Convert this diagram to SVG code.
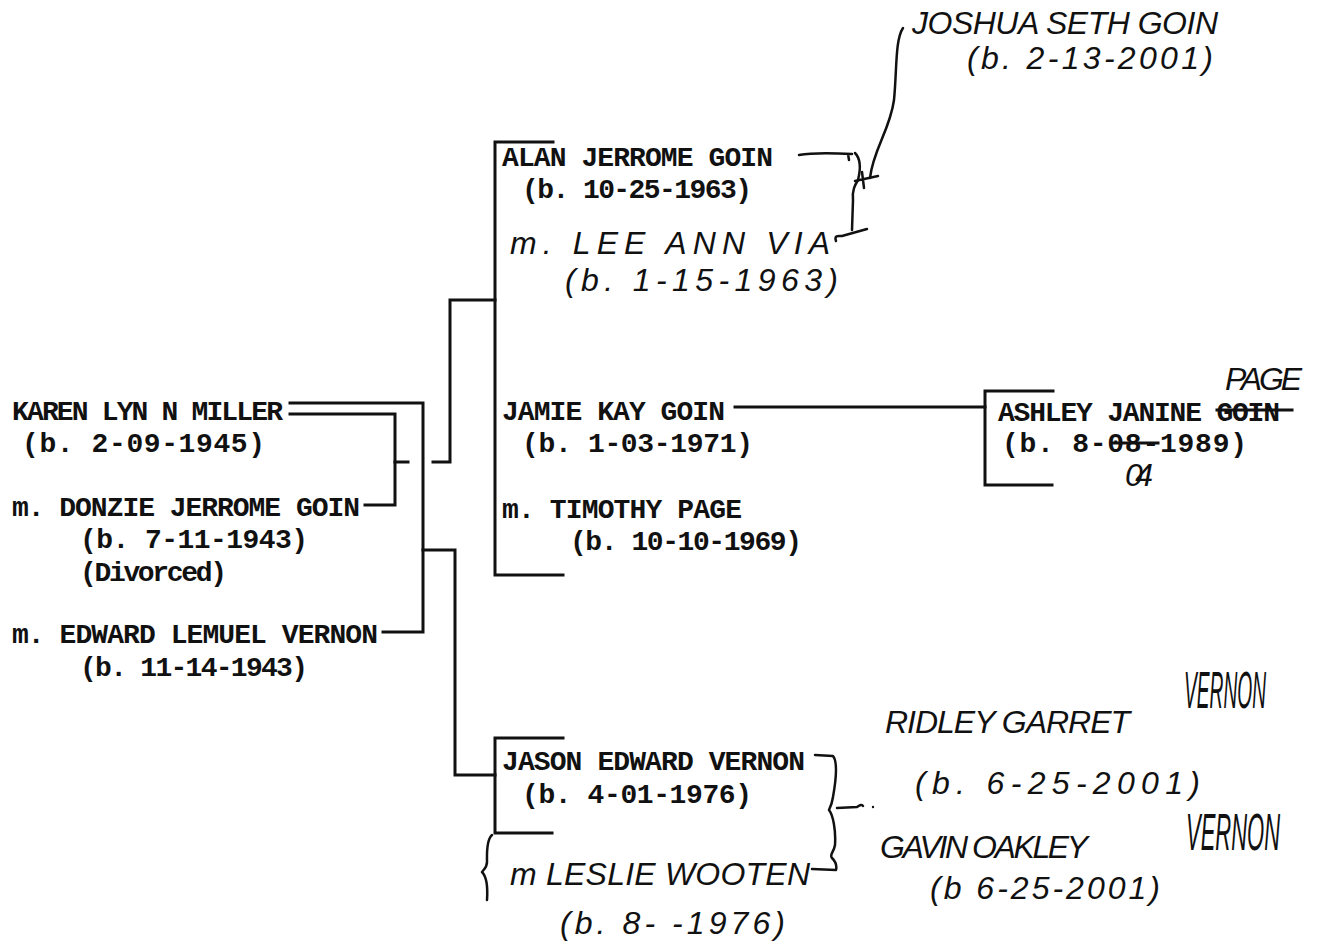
<svg xmlns="http://www.w3.org/2000/svg" width="1320" height="950" viewBox="0 0 1320 950">
<style>
.t{font-family:"Liberation Mono","DejaVu Sans Mono",monospace;font-size:28px;fill:#111;font-weight:bold}
.h{font-family:"Liberation Sans","DejaVu Sans",sans-serif;font-size:32px;fill:#111;font-style:italic}
.ln{fill:none;stroke:#111;stroke-width:3;stroke-linecap:square}
.hl{fill:none;stroke:#111;stroke-width:2.5;stroke-linecap:round;stroke-linejoin:round}
</style>
<rect width="1320" height="950" fill="#fff"/>
<g id="connectors">
<path class="ln" d="M290,403 H423 V632 H383"/>
<path class="ln" d="M290,414 H395 V505 H365"/>
<path class="ln" d="M395,462 H408"/>
<path class="ln" d="M433,462 H450 V300 H495"/>
<path class="ln" d="M423,550 H455 V775 H495"/>
<path class="ln" d="M553,142 H495 V575 H563"/>
<path class="ln" d="M735,407 H985"/>
<path class="ln" d="M1053,391 H985 V485 H1052"/>
<path class="ln" d="M563,738 H495 V833 H552"/>
<path class="hl" d="M903,28 C895,40 897,70 894,100 C890,130 873,150 870,178"/>
<path class="hl" d="M799,155 C815,152 835,153 852,154 M848,154 L849,160"/>
<path class="hl" d="M855,153 C862,160 860,172 858,180 C855,185 852,190 853,200 L852,230"/>
<path class="hl" d="M855,181 L878,176 M862,172 L864,188"/>
<path class="hl" d="M836,241 C834,235 838,236 842,236 L867,229"/>
<path class="hl" d="M815,755 L833,756 C838,762 836,780 833,797 C832,804 830,808 829,810 C833,815 836,830 835,845 C834,852 829,855 832,858 C836,862 837,866 836,870 L812,869"/>
<path class="hl" d="M837,808 L857,807 C860,805 862,804 863,806"/>
<circle cx="873" cy="807" r="1.2" fill="#111"/>
<path class="hl" d="M492,835 C486,840 487,855 487,862 C487,868 483,870 482,872 C486,876 488,885 487,900"/>
</g>
<g id="karen">
<text class="t" x="12" y="420" textLength="271" lengthAdjust="spacing">KAREN LYN N MILLER</text>
<text class="t" x="22" y="452" textLength="243" lengthAdjust="spacing">(b.  2-09-1945)</text>
</g>
<g id="donzie">
<text class="t" x="12" y="516" textLength="348" lengthAdjust="spacing">m. DONZIE JERROME GOIN</text>
<text class="t" x="80" y="548" textLength="228" lengthAdjust="spacing">(b.  7-11-1943)</text>
<text class="t" x="80" y="581" textLength="147" lengthAdjust="spacing">(Divorced)</text>
</g>
<g id="edward">
<text class="t" x="12" y="643" textLength="366" lengthAdjust="spacing">m. EDWARD LEMUEL VERNON</text>
<text class="t" x="80" y="676" textLength="228" lengthAdjust="spacing">(b. 11-14-1943)</text>
</g>
<g id="alan">
<text class="t" x="502" y="166" textLength="271" lengthAdjust="spacing">ALAN JERROME GOIN</text>
<text class="t" x="522" y="198" textLength="230" lengthAdjust="spacing">(b. 10-25-1963)</text>
<text class="h" x="510" y="254" font-size="40" textLength="320" lengthAdjust="spacing">m. LEE ANN VIA</text>
<text class="h" x="565" y="291" font-size="34" textLength="273" lengthAdjust="spacing">(b. 1-15-1963)</text>
</g>
<g id="joshua">
<text class="h" x="912" y="34" font-size="30" textLength="306" lengthAdjust="spacing">JOSHUA SETH GOIN</text>
<text class="h" x="967" y="69" font-size="30" textLength="246" lengthAdjust="spacing">(b. 2-13-2001)</text>
</g>
<g id="jamie">
<text class="t" x="502" y="420" textLength="223" lengthAdjust="spacing">JAMIE KAY GOIN</text>
<text class="t" x="522" y="452" textLength="231" lengthAdjust="spacing">(b.  1-03-1971)</text>
<text class="t" x="502" y="518" textLength="240" lengthAdjust="spacing">m. TIMOTHY PAGE</text>
<text class="t" x="570" y="550" textLength="232" lengthAdjust="spacing">(b. 10-10-1969)</text>
</g>
<g id="ashley">
<text class="t" x="998" y="421" textLength="282" lengthAdjust="spacing">ASHLEY JANINE GOIN</text>
<text class="t" x="1002" y="452" textLength="245" lengthAdjust="spacing">(b.  8-08-1989)</text>
<path class="ln" d="M1217,410 H1292" stroke-width="2.5"/>
<path class="ln" d="M1113,443 H1158" stroke-width="2.5"/>
<text class="h" x="1225" y="390" font-size="28" textLength="77" lengthAdjust="spacing">PAGE</text>
<text class="h" x="1125" y="486" font-size="12" textLength="28" lengthAdjust="spacing">04</text>
</g>
<g id="jason">
<text class="t" x="502" y="770" textLength="303" lengthAdjust="spacing">JASON EDWARD VERNON</text>
<text class="t" x="522" y="803" textLength="230" lengthAdjust="spacing">(b.  4-01-1976)</text>
<text class="h" x="510" y="885" font-size="34" textLength="300" lengthAdjust="spacing">m LESLIE WOOTEN</text>
<text class="h" x="560" y="934" font-size="32" textLength="225" lengthAdjust="spacing">(b. 8-  -1976)</text>
</g>
<g id="ridley">
<text class="h" x="885" y="733" font-size="32" textLength="245" lengthAdjust="spacing">RIDLEY GARRET</text>
<text class="h" transform="translate(1184,708) scale(1,1.6)" x="0" y="0" font-size="22" textLength="82" lengthAdjust="spacingAndGlyphs">VERNON</text>
<text class="h" x="915" y="794" textLength="285" lengthAdjust="spacing">(b. 6-25-2001)</text>
</g>
<g id="gavin">
<text class="h" x="880" y="858" font-size="32" textLength="208" lengthAdjust="spacing">GAVIN OAKLEY</text>
<text class="h" transform="translate(1186,850) scale(1,1.6)" x="0" y="0" font-size="22" textLength="94" lengthAdjust="spacingAndGlyphs">VERNON</text>
<text class="h" x="930" y="899" textLength="230" lengthAdjust="spacing">(b 6-25-2001)</text>
</g>
</svg>
